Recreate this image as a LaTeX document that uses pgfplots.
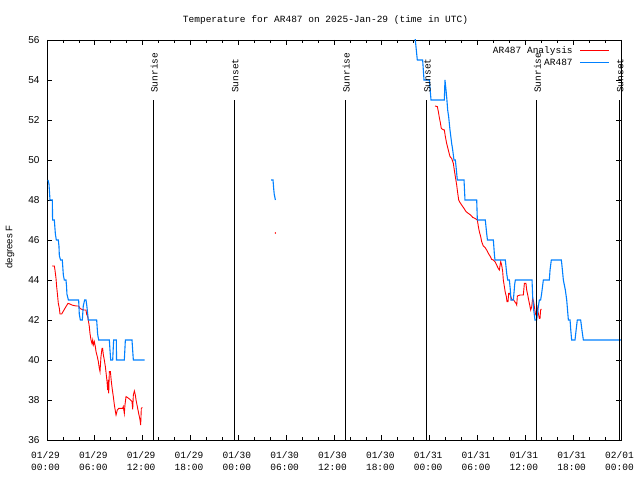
\documentclass[border=0pt]{standalone}
\usepackage{pgfplots}
\pgfplotsset{compat=1.18}
\usepackage{fontspec}
\setmainfont{Liberation Mono}
\newfontfamily\sansf{Liberation Sans}
\definecolor{arblue}{RGB}{0,128,255}
\begin{document}
\begin{tikzpicture}[font=\fontsize{9.5bp}{11bp}\selectfont]
\useasboundingbox (0,0) rectangle (640bp,480bp);
\node at (325.5bp,460bp) {Temperature for AR487 on 2025-Jan-29 (time in UTC)};
\node[rotate=90, font=\sansf\fontsize{9.5bp}{11bp}\selectfont] at (10bp,233bp) {degrees F};
\begin{axis}[
  at={(47bp,40bp)}, anchor=south west,
  scale only axis, width=574bp, height=400bp,
  xmin=0, xmax=72, ymin=36, ymax=56,
  xtick={0,6,...,72},
  xticklabels={{01/29\\00:00},{01/29\\06:00},{01/29\\12:00},{01/29\\18:00},{01/30\\00:00},{01/30\\06:00},{01/30\\12:00},{01/30\\18:00},{01/31\\00:00},{01/31\\06:00},{01/31\\12:00},{01/31\\18:00},{02/01\\00:00}},
  xticklabel style={align=center, font=\fontsize{9.5bp}{11.7bp}\selectfont, yshift=-8bp, xshift=-1.5bp},
  minor x tick num=2,
  ytick={36,38,...,56},
  yticklabel style={xshift=-4bp, font=\sansf\fontsize{10bp}{12bp}\selectfont},
  tick align=inside,
  major tick length=5bp, minor tick length=3bp,
  tick style={black, line width=0.7bp},
  axis line style={black, line width=0.8bp},
  clip mode=individual,
  /pgf/number format/assume math mode=true,
  legend style={at={(axis description cs:1,1)}, anchor=north east, draw=none, fill=none,
    xshift=-10bp, yshift=-2.5bp, row sep=-2bp, inner sep=1bp,
    nodes={text depth=2bp, text height=8bp, inner xsep=7bp}},
  legend cell align=right,
  legend plot pos=right,
  legend image code/.code={\draw[#1] (0bp,0bp) -- (29bp,0bp);},
]
% red analysis, segment 1
\addplot[red, line width=0.9bp] coordinates {
(0.63,44.7)(0.92,44.7)(1.00,44.5)(1.13,44.08)(1.21,43.67)(1.30,43.33)(1.42,42.83)(1.55,42.58)(1.63,42.3)(1.84,42.3)(2.13,42.5)(2.38,42.67)(2.63,42.83)(2.88,42.8)(3.13,42.75)(3.39,42.72)(3.72,42.7)(3.97,42.7)(4.14,42.58)(4.39,42.53)(4.64,42.5)(4.89,42.5)(4.97,42.3)(5.10,42.17)(5.18,42.0)(5.31,41.67)(5.39,41.33)(5.52,41.0)(5.64,40.83)(5.73,41.0)(5.81,40.75)(5.94,40.92)(6.06,40.67)(6.15,40.42)(6.31,40.17)(6.44,39.92)(6.56,39.58)(6.65,39.42)(6.77,40.17)(6.90,40.58)(6.98,40.58)(7.07,40.25)(7.19,40.0)(7.32,39.67)(7.44,39.25)(7.53,38.92)(7.61,38.5)(7.70,39.0)(7.74,38.33)(7.82,39.42)(7.95,39.42)(8.07,38.92)(8.20,38.5)(8.32,38.17)(8.45,37.75)(8.66,37.25)(8.82,37.5)(8.99,37.58)(9.49,37.58)(9.57,37.67)(9.70,37.33)(9.78,37.75)(9.91,38.17)(10.08,38.13)(10.41,38.03)(10.66,37.92)(10.75,37.53)(10.83,38.25)(10.96,38.45)(11.08,38.25)(11.17,38.0)(11.33,37.67)(11.50,37.33)(11.67,37.0)(11.75,36.75)(11.83,37.58)(11.96,37.63)
};
\addlegendentry{AR487 Analysis}
% blue obs, segment 1
\addplot[arblue, line width=1.1bp] coordinates {
(0.125,49)(0.25,48.8)(0.376,48)(0.67,48)(0.70,47)(0.92,47)(1.05,46.3)(1.17,46)(1.42,46)(1.5,45.7)(1.55,45.2)(1.71,45)(1.92,45)(2.05,44.25)(2.17,44)(2.38,44)(2.45,43.7)(2.5,43.3)(2.68,43)(3.97,43)(4.05,42.3)(4.18,42)(4.43,42)(4.55,42.7)(4.72,43)(4.89,43)(5.0,42.7)(5.18,42)(6.23,42)(6.35,41.3)(6.48,41)(7.82,41)(7.9,40.5)(7.99,40)(8.24,40)(8.36,41)(8.70,41)(8.72,40)(9.70,40)(9.83,41)(10.66,41)(10.83,40)(12.25,40)
};
\addlegendentry{AR487}
% middle
\addplot[arblue, line width=1.1bp, forget plot] coordinates {
(28.1,49)(28.35,49)(28.45,48.5)(28.5,48.3)(28.65,48)
};
\addplot[red, only marks, mark=*, mark size=0.5bp, forget plot] coordinates {(28.65,46.35)};
% red segment 3
\addplot[red, line width=0.9bp, forget plot] coordinates {
(48.67,52.7)(48.96,52.67)(49.09,52.42)(49.21,52.13)(49.34,51.87)(49.46,51.58)(49.63,51.53)(49.84,51.5)(49.97,51.17)(50.13,50.83)(50.34,50.5)(50.55,50.17)(50.76,50.08)(50.97,49.83)(51.09,49.5)(51.22,49.17)(51.39,48.75)(51.51,48.37)(51.64,48.0)(51.81,47.87)(52.01,47.75)(52.31,47.58)(52.56,47.42)(52.85,47.33)(53.14,47.25)(53.40,47.13)(53.69,47.08)(53.98,47.0)(54.11,46.67)(54.23,46.42)(54.40,46.17)(54.52,45.92)(54.73,45.7)(54.94,45.63)(55.15,45.5)(55.36,45.33)(55.57,45.2)(55.78,45.03)(55.99,45.0)(56.19,44.92)(56.40,44.75)(56.61,44.58)(56.74,44.5)(56.91,44.92)(57.03,44.75)(57.16,44.42)(57.24,44.0)(57.37,43.67)(57.49,43.37)(57.62,43.17)(57.70,42.92)(57.83,42.92)(57.91,43.33)(58.04,43.33)(58.17,43.17)(58.33,43.0)(58.50,43.03)(58.67,42.92)(58.83,42.83)(58.92,42.75)(59.00,43.2)(59.34,43.25)(59.75,43.25)(59.88,43.83)(60.08,43.83)(60.17,43.5)(60.30,43.25)(60.42,43.0)(60.55,42.75)(60.67,42.5)(60.80,42.67)(60.92,43.08)(61.05,42.9)(61.13,42.67)(61.26,42.33)(61.42,42.17)(61.51,42.58)(61.63,42.33)(61.76,42.08)(61.84,42.08)(61.92,42.5)(62.01,42.55)
};
% blue segment 3
\addplot[arblue, line width=1.1bp, forget plot] coordinates {
(45.9,57)(46.2,56)(46.45,55)(47.12,55)(47.29,54)(47.96,54)(48.17,53)(49.84,53)(49.92,54)(50.05,53.5)(50.13,53.17)(50.26,52.5)(50.38,52.17)(50.55,51.5)(50.76,50.83)(50.89,50.5)(51.05,50)(51.22,50)(51.31,49.67)(51.39,49.33)(51.47,49)(52.31,49)(52.43,48)(53.90,48)(53.98,47)(54.98,47)(55.15,46.33)(55.25,46)(55.99,46)(56.11,45.33)(56.19,45)(57.49,45)(57.66,44.33)(57.79,44)(58.0,44)(58.12,43.5)(58.2,43)(58.5,43)(58.67,43.8)(58.75,44)(60.84,44)(60.92,43.17)(61.05,42.5)(61.21,42)(61.42,42)(61.63,42.67)(61.76,43)(61.92,43)(62.05,43.33)(62.26,44)(63.01,44)(63.1,44.5)(63.26,45)(64.52,45)(64.65,44.5)(64.77,44)(65.02,43.5)(65.19,43)(65.40,42)(65.61,42)(65.70,41.5)(65.81,41)(66.23,41)(66.40,41.6)(66.52,42)(66.94,42)(67.10,41.5)(67.28,41)(72,41)
};
% sunrise / sunset markers
\draw[black, line width=0.8bp] (axis cs:13.3,36) -- (axis cs:13.3,53);
\draw[black, line width=0.8bp] (axis cs:23.46,36) -- (axis cs:23.46,53);
\draw[black, line width=0.8bp] (axis cs:37.38,36) -- (axis cs:37.38,53);
\draw[black, line width=0.8bp] (axis cs:47.58,36) -- (axis cs:47.58,53);
\draw[black, line width=0.8bp] (axis cs:61.38,36) -- (axis cs:61.38,53);
\draw[black, line width=0.8bp] (axis cs:71.75,36) -- (axis cs:71.75,53);
\node[rotate=90, anchor=west, inner sep=0pt] at (axis cs:13.45,53.35) {Sunrise};
\node[rotate=90, anchor=west, inner sep=0pt] at (axis cs:23.61,53.35) {Sunset};
\node[rotate=90, anchor=west, inner sep=0pt] at (axis cs:37.53,53.35) {Sunrise};
\node[rotate=90, anchor=west, inner sep=0pt] at (axis cs:47.73,53.35) {Sunset};
\node[rotate=90, anchor=west, inner sep=0pt] at (axis cs:61.53,53.35) {Sunrise};
\node[rotate=90, anchor=west, inner sep=0pt] at (axis cs:71.9,53.35) {Sunset};
\end{axis}
\end{tikzpicture}
\end{document}
